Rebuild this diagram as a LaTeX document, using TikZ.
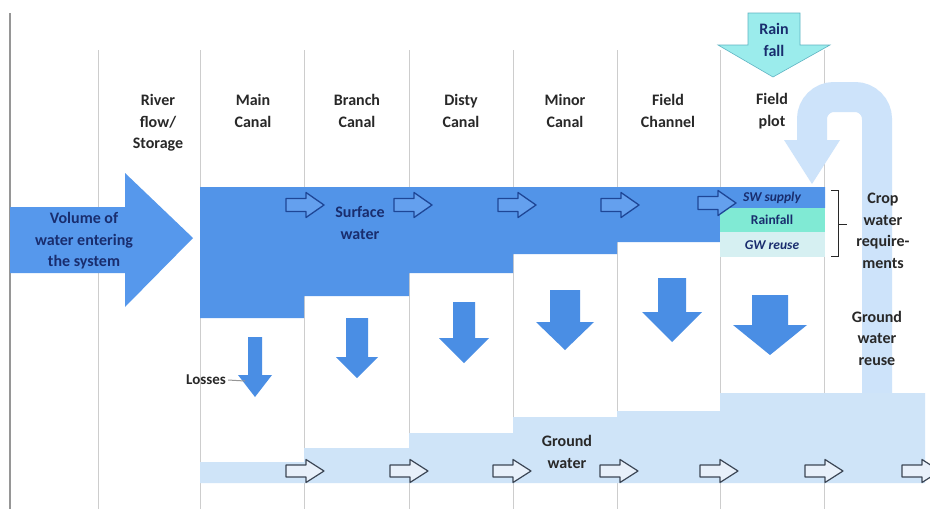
\documentclass[tikz,border=0pt]{standalone}
\usepackage{fontspec}
\setmainfont{Carlito}
\definecolor{swblue}{RGB}{82,148,232}
\definecolor{bigblue}{RGB}{86,152,236}
\definecolor{dnblue}{RGB}{74,142,228}
\definecolor{gwblue}{RGB}{207,228,248}
\definecolor{loopblue}{RGB}{205,227,250}
\definecolor{rainc}{RGB}{155,236,236}
\definecolor{rainedge}{RGB}{95,180,195}
\definecolor{mint}{RGB}{128,234,212}
\definecolor{gwreuse}{RGB}{214,240,242}
\definecolor{navy}{RGB}{25,45,110}
\definecolor{txt}{RGB}{40,40,40}
\definecolor{vline}{RGB}{205,205,205}
\definecolor{edgeline}{RGB}{150,150,150}
\definecolor{arrowedge}{RGB}{30,70,150}
\definecolor{swarrfill}{RGB}{100,160,238}
\definecolor{gwedge}{RGB}{60,70,85}
\definecolor{gwfill}{RGB}{232,240,250}
\tikzset{
  lbl/.style={font=\fontsize{16}{21.5}\selectfont\bfseries, text=txt, align=center, inner sep=0pt},
  navylbl/.style={lbl, text=navy},
  boxlbl/.style={font=\fontsize{13.5}{15}\selectfont\bfseries\itshape, text=navy, inner sep=0pt},
  colline/.style={draw=vline, line width=0.8pt},
  swarr/.style={draw=arrowedge, fill=swarrfill, line width=1.3pt, line join=round},
  gwarr/.style={draw=gwedge, fill=gwfill, line width=1.2pt, line join=round},
  dnarr/.style={fill=dnblue},
  pics/swa/.style={code={\path[swarr] (-19,-6.5) -- (1,-6.5) -- (1,-12.5) -- (19,0) -- (1,12.5) -- (1,6.5) -- (-19,6.5) -- cycle;}},
  pics/gwa/.style={code={\path[gwarr] (-19,-6) -- (1,-6) -- (1,-11.5) -- (19,0) -- (1,11.5) -- (1,6) -- (-19,6) -- cycle;}},
}
% #1 cx, #2 shaft half width, #3 shaft top, #4 head base, #5 head half width, #6 tip
\newcommand\dnblock[6]{%
  \path[dnarr] (#1-#2,#3) -- (#1+#2,#3) -- (#1+#2,#4) -- (#1+#5,#4) -- (#1,#6) -- (#1-#5,#4) -- (#1-#2,#4) -- cycle;}
\begin{document}
\begin{tikzpicture}[x=1pt,y=-1pt]
\useasboundingbox (0,0) rectangle (930,509);
\clip (0,0) rectangle (930,509);
\fill[white] (0,0) rectangle (930,509);

% column lines
\draw[draw=edgeline, line width=1.2pt] (10,13) -- (10,509);
\foreach \x in {98,200,304,409,513,617,720,824}
  \draw[colline] (\x,50) -- (\x,509);

% loop arrow (ground water reuse)
\draw[loopblue, line width=30pt, rounded corners=22pt] (877,400) -- (877,97) -- (812,97) -- (812,142);
\fill[loopblue] (784,140) -- (840,140) -- (812,184) -- cycle;

% ground water band
\fill[gwblue] (200,462) -- (304,462) -- (304,448) -- (409,448) -- (409,433) -- (513,433)
  -- (513,417) -- (617,417) -- (617,411) -- (720,411) -- (720,393) -- (925,393)
  -- (925,483) -- (200,483) -- cycle;

% surface water staircase
\fill[swblue] (200,187) -- (825,187) -- (825,208) -- (720,208) -- (720,242) -- (617,242)
  -- (617,254) -- (513,254) -- (513,273) -- (409,273) -- (409,296) -- (304,296)
  -- (304,318) -- (200,318) -- cycle;

% field plot boxes
\fill[mint] (720,208) rectangle (825,232);
\fill[gwreuse] (720,232) rectangle (825,257);

% big inflow arrow
\fill[bigblue] (10,207) -- (125,207) -- (125,173) -- (193,238) -- (125,307) -- (125,273) -- (10,273) -- cycle;

% rain fall arrow
\path[fill=rainc, draw=rainedge, line width=0.6pt] (748,13) -- (800,13) -- (800,45) -- (830,45)
  -- (773,77) -- (718,45) -- (748,45) -- cycle;

% down arrows (losses)
\dnblock{255}{7}{337}{375}{17}{397}
\dnblock{357}{11}{318}{357}{21}{378}
\dnblock{464}{11}{302}{338}{25}{363}
\dnblock{565}{15}{290}{322}{29}{350}
\dnblock{672}{14}{278}{312}{30}{342}
\dnblock{770}{18}{295}{325}{37}{355}

% surface water flow arrows
\pic at (305,205) {swa};
\pic at (413,205) {swa};
\pic at (517,205) {swa};
\pic at (620,205) {swa};
\pic at (717,203) {swa};

% ground water flow arrows
\foreach \x in {305,409,512,619,719,824,921}
  \pic at (\x,471) {gwa};

% bracket
\draw[txt, line width=1pt] (831,190) -- (838,190) -- (838,256) -- (831,256);
\coordinate (brk) at (838,224);
\coordinate (brkend) at (847,224);
\draw[txt, line width=1pt] (brk) -- (brkend);

% headers
\node[lbl] (river) at (158,123) {River\\flow/\\Storage};
\node[lbl] (main) at (253,111) {Main\\Canal};
\node[lbl] (branch) at (357,111) {Branch\\Canal};
\node[lbl] (disty) at (461,111) {Disty\\Canal};
\node[lbl] (minor) at (565,111) {Minor\\Canal};
\node[lbl] (fchan) at (668,111) {Field\\Channel};
\node[lbl] (fplot) at (772,111) {Field\\plot};

% labels
\node[navylbl] (rain) at (774,40) {Rain\\fall};
\node[navylbl] (volume) at (84,241) {Volume of\\water entering\\the system};
\node[navylbl] (surface) at (360,223) {Surface\\water};
\node[lbl] (ground) at (567,452) {Ground\\water};
\node[lbl] (crop) at (883,231) {Crop\\water\\require-\\ments};
\node[lbl] (gwr) at (877,338) {Ground\\water\\reuse};
\node[lbl, font=\fontsize{15}{17}\selectfont\bfseries] (losses) at (206,380) {Losses};
\coordinate (lossarrow) at (245,381);
\draw[edgeline, line width=1pt] (losses.east) ++(2,0) -- (lossarrow);

\node[boxlbl] (swsup) at (772,198) {SW supply};
\node[boxlbl, font=\fontsize{13.5}{15}\selectfont\bfseries] (rainfall) at (772,220) {Rainfall};
\node[boxlbl] (gwre) at (772,245) {GW reuse};
\end{tikzpicture}
\end{document}
